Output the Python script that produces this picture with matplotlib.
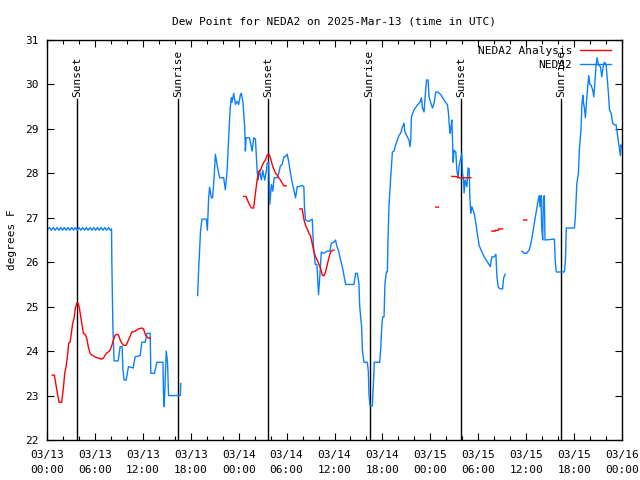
import numpy as np
import matplotlib
matplotlib.use("Agg")
import matplotlib.pyplot as plt

nan = np.nan

# hours since 2025-03-13 00:00 UTC
obs_hours = [
    0.1, 0.33, 0.56, 0.79, 1.02, 1.25, 1.48, 1.71, 1.94, 2.17, 2.4, 2.63, 2.86, 3.09, 3.32,
    3.55, 3.78, 4.01, 4.24, 4.47, 4.7, 4.93, 5.16, 5.39, 5.62, 5.85, 6.08, 6.31, 6.54, 6.77,
    7.0, 7.23, 7.46, 7.69, 7.92, 8.08,
    8.12, 8.25, 8.4, 8.91, 9.16, 9.41, 9.5, 9.66, 9.91, 10.2, 10.79, 11.04, 11.67, 11.88,
    12.3, 12.51, 12.92, 13.0, 13.46, 13.76, 14.52, 14.59, 14.68, 14.93, 15.09, 15.22, 16.69, 16.75,
    17.5,
    18.86, 18.98, 19.11, 19.23, 19.41, 19.95, 20.08, 20.24, 20.36, 20.58, 20.74, 20.92, 21.08,
    21.2, 21.37, 21.62, 22.12, 22.33, 22.55, 22.67, 22.84, 22.96, 23.09, 23.17, 23.38, 23.59,
    23.8, 24.0, 24.22, 24.34, 24.55, 24.76, 24.84, 24.93, 25.35, 25.47, 25.68, 25.88, 26.1,
    26.31, 26.43, 26.6, 26.85, 27.01, 27.26, 27.48, 27.56, 27.76, 27.89, 28.1, 28.27, 28.44,
    28.82, 29.02, 29.23, 29.45, 29.65, 29.86, 30.08, 30.28, 30.49, 30.7, 30.9, 31.12, 31.33,
    31.53, 31.96, 32.16, 32.25, 32.37, 32.79, 33.21, 33.37, 33.59, 33.8, 34.0, 34.13, 34.35,
    34.64, 35.09, 35.42, 35.6, 35.92, 36.14, 36.26, 36.55, 36.76, 36.98, 37.18, 37.39, 38.43,
    38.65, 38.86, 39.06, 39.15, 39.27, 39.4, 39.49, 39.69, 40.11, 40.24, 40.31, 40.44, 40.74,
    40.81, 40.94, 40.97, 41.66, 41.78, 41.91, 42.03, 42.2, 42.32, 42.5, 42.62, 42.7, 42.82,
    43.04, 43.25, 43.45, 43.66, 43.88, 44.08, 44.29, 44.5, 44.71, 44.79, 45.01, 45.33, 45.46,
    45.55, 45.63, 45.96, 46.39, 46.71, 46.89, 47.01, 47.21, 47.34, 47.52, 47.72, 47.84, 48.06,
    48.27, 48.47, 48.68, 48.9, 49.31, 49.72, 50.15, 50.27, 50.35, 50.48, 50.56, 50.69, 50.78,
    50.85, 50.98, 51.19, 51.32, 51.48, 51.61, 51.82, 51.94, 52.03, 52.16, 52.23, 52.36, 52.57,
    52.73, 52.86, 52.95, 53.07, 53.2, 53.49, 53.7, 53.91, 54.11, 54.33, 54.74, 55.17, 55.5,
    55.71, 56.0, 56.21, 56.34, 56.5, 56.75, 57.05, 57.18, 57.38,
    58.5,
    59.47, 59.76, 60.06, 60.39, 60.6, 60.82, 61.02, 61.23, 61.44, 61.64, 61.73, 61.86, 61.94,
    62.07, 62.15, 62.27, 62.36, 63.53, 63.65, 63.78, 64.78, 64.91, 65.03, 66.04, 66.16, 66.34,
    66.54, 66.66, 66.88, 66.96, 67.09, 67.17, 67.29, 67.42, 67.54, 67.72, 67.84, 67.97, 68.13,
    68.34, 68.47, 68.63, 68.76, 68.88, 69.05, 69.3, 69.47, 69.67, 69.8, 70.01, 70.14, 70.3,
    70.43, 70.64, 70.84, 71.04, 71.26, 71.47, 71.67, 71.8, 71.88, 72.0,
]
obs_dewpoint = [
    26.75, 26.78, 26.72, 26.78, 26.72, 26.78, 26.72, 26.78, 26.72, 26.78, 26.72, 26.78, 26.72,
    26.78, 26.72, 26.78, 26.72, 26.78, 26.72, 26.78, 26.72, 26.78, 26.72, 26.78, 26.72, 26.78,
    26.72, 26.78, 26.72, 26.78, 26.72, 26.78, 26.72, 26.78, 26.72, 26.75,
    26.0, 24.55, 23.78, 23.78, 24.1, 24.1, 23.6, 23.35, 23.35, 23.65, 23.62, 23.87, 23.9, 24.2,
    24.2, 24.4, 24.4, 23.5, 23.5, 23.75, 23.75, 23.0, 22.75, 24.0, 23.75, 23.0, 23.0, 23.27,
    nan,
    25.25, 25.8, 26.28, 26.72, 26.97, 26.97, 26.72, 27.44, 27.69, 27.45, 27.45, 27.9, 28.43,
    28.3, 28.12, 27.9, 27.9, 27.63, 28.05, 28.5, 29.13, 29.5, 29.7, 29.6, 29.8, 29.55,
    29.62, 29.55, 29.77, 29.8, 29.57, 29.02, 28.5, 28.8, 28.8, 28.7, 28.5, 28.8, 28.77,
    28.07, 27.85, 28.07, 27.85, 28.07, 27.85, 28.07, 28.22, 28.25, 27.3, 27.75, 27.6, 27.9,
    27.9, 28.0, 28.17, 28.2, 28.37, 28.38, 28.43, 28.25, 28.0, 27.8, 27.63, 27.45, 27.7,
    27.7, 27.73, 27.7, 27.2, 26.95, 26.92, 26.97, 26.35, 25.95, 25.95, 25.27, 25.6, 26.23,
    26.2, 26.25, 26.25, 26.43, 26.45, 26.5, 26.38, 26.23, 26.05, 25.9, 25.7, 25.5, 25.5,
    25.75, 25.75, 25.52, 25.03, 24.77, 24.55, 24.03, 23.75, 23.75, 23.53, 23.05, 22.77, 22.77,
    23.05, 23.53, 23.75, 23.75, 24.03, 24.52, 24.77, 24.77, 25.53, 25.78, 25.78, 26.5, 27.25,
    27.92, 28.48, 28.5, 28.64, 28.75, 28.86, 28.9, 29.04, 29.13, 28.95, 28.86, 28.75, 28.6,
    28.75, 29.27, 29.43, 29.54, 29.6, 29.7, 29.47, 29.38, 29.7, 30.1, 30.1, 29.72, 29.58,
    29.47, 29.58, 29.83, 29.83, 29.77, 29.65, 29.54, 29.35, 29.13, 28.9, 29.0, 29.2, 28.75,
    28.25, 28.52, 28.48, 28.07, 27.9, 28.18, 28.35, 28.45, 28.0, 27.85, 27.56, 27.85, 27.7,
    28.12, 28.1, 27.45, 27.1, 27.25, 27.1, 26.88, 26.61, 26.38, 26.28, 26.12, 26.0, 25.9,
    26.12, 26.12, 26.18, 25.67, 25.44, 25.4, 25.4, 25.65, 25.73,
    nan,
    26.25, 26.2, 26.2, 26.28, 26.43, 26.65, 26.88, 27.1, 27.33, 27.5, 27.25, 27.5, 26.8,
    26.5, 27.4, 27.5, 26.5, 26.52, 26.0, 25.78, 25.78, 26.0, 26.77, 26.77, 27.02, 27.76,
    28.0, 28.52, 29.02, 29.5, 29.76, 29.6, 29.47, 29.25, 29.58, 29.98, 30.2, 30.0, 29.98,
    29.87, 29.72, 30.1, 30.44, 30.6, 30.44, 30.4, 30.17, 30.44, 30.5, 30.45, 30.17, 29.8,
    29.43, 29.35, 29.13, 29.09, 29.09, 28.82, 28.57, 28.4, 28.64, 28.6,
]

ana_hours = [
    0.66, 0.92, 1.09, 1.29, 1.51, 1.84, 2.05, 2.22, 2.38, 2.55, 2.72, 2.89, 3.05, 3.22, 3.39,
    3.55, 3.73, 3.89, 4.05, 4.23, 4.39, 4.55, 4.77, 4.98, 5.18, 5.4, 5.61, 6.02, 6.44, 6.86,
    7.06, 7.28, 7.49, 7.69, 7.9, 8.12, 8.32, 8.53, 8.75, 8.95, 9.16, 9.37, 9.57, 9.91, 10.2,
    10.63, 11.04, 11.46, 11.88, 12.08, 12.3, 12.51, 12.71, 12.92,
    18.0,
    24.63, 24.93, 25.26, 25.6, 25.88, 26.1, 26.31, 26.51, 26.73, 26.94, 27.14, 27.35, 27.56,
    27.77, 27.89, 27.98, 28.19, 28.39, 28.61, 28.82, 29.02, 29.23, 29.45, 29.65, 29.95,
    30.8,
    31.66, 31.96, 32.16, 32.37, 32.58, 32.79, 33.0, 33.21, 33.41, 33.63, 33.84, 34.04, 34.25,
    34.47, 34.67, 34.88, 35.09, 35.29, 35.51, 35.72, 35.92,
    40.0,
    48.68, 49.02,
    50.0,
    50.69, 51.1, 51.41, 51.44, 52.5, 53.07,
    54.5,
    55.71, 56.13, 56.14, 56.55, 56.56, 57.05,
    58.0,
    59.69, 60.06,
]
ana_dewpoint = [
    23.46, 23.46, 23.28, 23.06, 22.85, 22.85, 23.17, 23.5, 23.64, 23.87, 24.18, 24.2, 24.4,
    24.63, 24.74, 24.97, 25.08, 25.08, 24.97, 24.77, 24.59, 24.4, 24.38, 24.29, 24.09, 23.95,
    23.91, 23.87, 23.84, 23.82, 23.84, 23.91, 23.96, 23.98, 24.02, 24.13, 24.25, 24.36, 24.38,
    24.36, 24.25, 24.18, 24.13, 24.13, 24.25, 24.43, 24.45, 24.5, 24.52, 24.5, 24.38, 24.32,
    24.29, 24.29,
    nan,
    27.48, 27.48, 27.33, 27.22, 27.22, 27.56, 27.85, 28.04, 28.07, 28.17, 28.25, 28.3, 28.41,
    28.43, 28.4, 28.35, 28.2, 28.1, 28.0, 27.96, 27.9, 27.85, 27.78, 27.72, 27.72,
    nan,
    27.2, 27.2, 26.97, 26.83, 26.75, 26.65, 26.6, 26.42, 26.25, 26.12, 26.05, 25.96, 25.87,
    25.71, 25.69, 25.78, 25.94, 26.09, 26.23, 26.27, 26.27,
    nan,
    27.24, 27.24,
    nan,
    27.93, 27.93, 27.92, 27.9, 27.9, 27.9,
    nan,
    26.7, 26.7, 26.72, 26.72, 26.75, 26.75,
    nan,
    26.95, 26.95,
]

sun_hours = [3.76, 16.44, 27.73, 40.4, 51.82, 64.37]
sun_labels = ["Sunset", "Sunrise", "Sunset", "Sunrise", "Sunset", "Sunrise"]

xtick_hours = [0, 6, 12, 18, 24, 30, 36, 42, 48, 54, 60, 66, 72]
xtick_labels = ["03/13\n00:00", "03/13\n06:00", "03/13\n12:00", "03/13\n18:00",
                "03/14\n00:00", "03/14\n06:00", "03/14\n12:00", "03/14\n18:00",
                "03/15\n00:00", "03/15\n06:00", "03/15\n12:00", "03/15\n18:00",
                "03/16\n00:00"]
ytick_values = [22, 23, 24, 25, 26, 27, 28, 29, 30, 31]

plt.rcParams['font.family'] = ['DejaVu Sans Mono']
plt.rcParams['font.size'] = 8

fig = plt.figure(figsize=(6.4, 4.8), dpi=100)
ax = fig.add_axes([47/640, 40/480, 575/640, 400/480])

blue = '#0a80ff'
red = '#ff0000'

for h, lab in zip(sun_hours, sun_labels):
    ax.plot([h, h], [0, 0.8525], color='black', lw=1.0,
            transform=ax.get_xaxis_transform(), zorder=1)
    ax.text(h, 0.858, lab, rotation=90, ha='center', va='bottom',
            transform=ax.get_xaxis_transform(), fontsize=8)

l1, = ax.plot(ana_hours, ana_dewpoint, color=red, lw=1.0, label='NEDA2 Analysis', zorder=3)
l2, = ax.plot(obs_hours, obs_dewpoint, color=blue, lw=1.0, label='NEDA2', zorder=2)

ax.set_xlim(0, 72)
ax.set_ylim(22, 31)
ax.set_xticks(xtick_hours)
ax.set_xticklabels(xtick_labels, linespacing=1.6)
ax.set_xticks(np.arange(0, 73, 2), minor=True)
ax.set_yticks(ytick_values)
ax.set_yticklabels([str(v) for v in ytick_values])
ax.tick_params(axis='both', which='major', direction='in', length=5, width=0.8,
               top=True, right=True, pad=6)
ax.tick_params(axis='x', which='minor', direction='in', length=3, width=0.8,
               top=True, bottom=True)
ax.tick_params(axis='x', which='major', pad=7)
for s in ax.spines.values():
    s.set_linewidth(1.0)

ax.set_ylabel('degrees F', labelpad=6)
ax.set_title('Dew Point for NEDA2 on 2025-Mar-13 (time in UTC)', pad=11, fontsize=8)

leg = ax.legend(handles=[l1, l2], loc='upper right', frameon=False, markerfirst=False,
                handlelength=2.8, handletextpad=0.7, labelspacing=0.35,
                bbox_to_anchor=(0.985, 0.99), borderaxespad=0.0, borderpad=0.2,
                fontsize=8)

fig.savefig('out.png', dpi=100)
